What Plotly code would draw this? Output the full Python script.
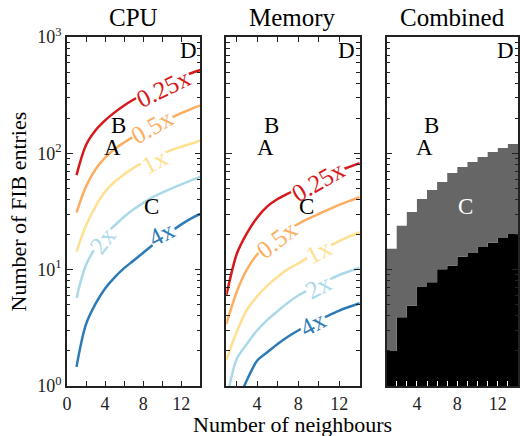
import math
import plotly.graph_objects as go

FONT = "Liberation Serif"

# ---------------- data ----------------
neighbours = list(range(1, 15))

cpu_025 = [65, 118, 158, 192, 225, 258, 290, 322, 354, 386, 420, 455, 488, 520]
cpu_05 = [31, 52, 73, 92, 109, 124, 139, 154, 170, 186, 204, 222, 240, 258]
cpu_1 = [14.3, 24, 35, 47, 57, 66, 75, 83, 91, 99, 107, 114, 121, 129]
cpu_2 = [5.7, 11, 15.5, 20, 24, 28.5, 33, 37.5, 42, 46, 50, 54, 58.5, 63]
cpu_4 = [1.46, 3.4, 5.1, 6.9, 8.6, 10.3, 12.0, 14.0, 16.3, 18.8, 21.5, 24.5, 27.5, 30.1]

mem_025 = [6.0, 13.5, 20.5, 28, 35, 40.5, 45, 50, 55, 60, 65.5, 71, 76.5, 82.5]
mem_05 = [3.4, 6.4, 10, 13.5, 16.5, 19.3, 22, 24.7, 27.4, 30.1, 33, 36, 39, 42]
mem_1 = [1.67, 2.9, 4.5, 5.9, 7.3, 8.7, 10.1, 11.3, 12.8, 14.3, 15.9, 17.6, 19.3, 21]
mem_2 = [0.75, 1.7, 2.3, 3.0, 3.7, 4.4, 5.2, 6.0, 6.7, 7.5, 8.2, 9.0, 9.7, 10.4]
mem_4 = [0.5, 0.7, 1.12, 1.65, 1.95, 2.3, 2.65, 3.0, 3.35, 3.7, 4.05, 4.45, 4.8, 5.15]

# combined: per-column (neighbours 1..13) boundaries
comb_cols = list(range(1, 14))
comb_black_top = [2.0, 3.9, 4.9, 7.1, 7.8, 10.1, 10.8, 12.9, 13.9, 15.7, 17.0, 18.7, 20.3]
comb_gray_top = [15.1, 23.8, 31.3, 40.5, 48.5, 56.8, 67.8, 76.4, 84.4, 93.1, 102.8, 111.3, 120.5]

series_names = ["0.25x", "0.5x", "1x", "2x", "4x"]
series_colors = ["#d7191c", "#fdae61", "#fee090", "#abd9e9", "#2c7bb6"]
cpu_series = [cpu_025, cpu_05, cpu_1, cpu_2, cpu_4]
mem_series = [mem_025, mem_05, mem_1, mem_2, mem_4]

letters = ["A", "B", "C", "D"]
letter_x = [4.8, 5.4, 8.85, 12.75]
letter_y = [112, 175, 34.8, 767]

panel_titles = ["CPU", "Memory", "Combined"]

# label placement (x, y, angle) for inline curve labels
cpu_lab_x = [10.1, 8.95, 9.2, 3.73, 10.0]
cpu_lab_y = [363, 170, 85, 17.8, 20.3]
cpu_lab_ang = [-26, -30, -28, -52, -28]
mem_lab_x = [9.96, 5.98, 10.0, 10.0, 9.48]
mem_lab_y = [57, 18, 14.3, 7.1, 3.46]
mem_lab_ang = [-30, -38, -28, -28, -28]

# ---------------- figure ----------------
fig = go.Figure()

for vals, col in zip(cpu_series, series_colors):
    fig.add_trace(go.Scatter(x=neighbours, y=vals, mode="lines",
                             line=dict(color=col, width=2.5, shape="spline", smoothing=1),
                             xaxis="x", yaxis="y", showlegend=False, hoverinfo="skip"))
for vals, col in zip(mem_series, series_colors):
    fig.add_trace(go.Scatter(x=neighbours, y=vals, mode="lines",
                             line=dict(color=col, width=2.5, shape="spline", smoothing=0.7),
                             xaxis="x2", yaxis="y2", showlegend=False, hoverinfo="skip"))

# combined panel as stepped filled regions
edges = comb_cols + [comb_cols[-1] + 1]
black_steps = comb_black_top + [comb_black_top[-1]]
gray_steps = comb_gray_top + [comb_gray_top[-1]]
fig.add_trace(go.Scatter(x=edges, y=[0.5] * len(edges), mode="lines",
                         line=dict(width=0, color="black"),
                         xaxis="x3", yaxis="y3", showlegend=False, hoverinfo="skip"))
fig.add_trace(go.Scatter(x=edges, y=black_steps, mode="lines", fill="tonexty",
                         fillcolor="black", line=dict(width=0, color="black", shape="hv"),
                         xaxis="x3", yaxis="y3", showlegend=False, hoverinfo="skip"))
fig.add_trace(go.Scatter(x=edges, y=gray_steps, mode="lines", fill="tonexty",
                         fillcolor="#666666", line=dict(width=0, color="#666666", shape="hv"),
                         xaxis="x3", yaxis="y3", showlegend=False, hoverinfo="skip"))

LC = "#222222"
yminor = [m * d for d in (1, 10, 100) for m in range(2, 10)]


def yaxis(domain_anchor, show_labels):
    return dict(type="log", range=[0, 3], anchor=domain_anchor, domain=[0, 1],
                showline=True, linecolor=LC, linewidth=1.8, mirror="ticks",
                ticks="inside", ticklen=6, tickwidth=1, tickcolor=LC,
                tickmode="array", tickvals=[1, 10, 100, 1000],
                ticktext=["10<sup>0</sup>", "10<sup>1</sup>", "10<sup>2</sup>", "10<sup>3</sup>"],
                showticklabels=show_labels,
                tickfont=dict(family=FONT, size=18, color=LC),
                minor=dict(tickmode="array", tickvals=yminor, ticks="inside",
                           ticklen=3.5, tickcolor=LC, showgrid=False),
                showgrid=False, zeroline=False)


def xaxis(domain, rng, tv, minor_tv, tickcol, anchor):
    return dict(domain=domain, range=rng, anchor=anchor,
                showline=True, linecolor=LC, linewidth=1.8, mirror="ticks",
                ticks="inside", ticklen=5, tickwidth=1.2, tickcolor=tickcol,
                tickmode="array", tickvals=tv, ticktext=[str(v) for v in tv],
                tickfont=dict(family=FONT, size=18, color=LC),
                minor=dict(tickmode="array", tickvals=minor_tv, ticks="inside",
                           ticklen=5, tickcolor=tickcol, showgrid=False),
                showgrid=False, zeroline=False)


PW = 520 - 67
fig.update_layout(
    width=520, height=436,
    margin=dict(l=67, r=0, t=37, b=50),
    paper_bgcolor="white", plot_bgcolor="white",
    xaxis=xaxis([0, 134 / PW], [0, 14], [0, 4, 8, 12], [2, 6, 10], LC, "y"),
    xaxis2=xaxis([(227 - 67) / PW, (361 - 67) / PW], [1, 14], [4, 8, 12], [2, 6, 10], LC, "y2"),
    xaxis3=xaxis([(388 - 67) / PW, 1.0], [1, 14], [4, 8, 12],
                 [2, 3, 5, 6, 7, 9, 10, 11, 13], "white", "y3"),
    yaxis=yaxis("x", True),
    yaxis2=yaxis("x2", False),
    yaxis3=yaxis("x3", False),
)

ann = []
# inline curve labels
for i, name in enumerate(series_names):
    ann.append(dict(x=cpu_lab_x[i], y=math.log10(cpu_lab_y[i]), xref="x", yref="y",
                    text=name, showarrow=False, textangle=cpu_lab_ang[i],
                    xanchor="center", yanchor="middle",
                    font=dict(family=FONT, size=25, color=series_colors[i]),
                    bgcolor="white", borderpad=0))
    ann.append(dict(x=mem_lab_x[i], y=math.log10(mem_lab_y[i]), xref="x2", yref="y2",
                    text=name, showarrow=False, textangle=mem_lab_ang[i],
                    xanchor="center", yanchor="middle",
                    font=dict(family=FONT, size=25, color=series_colors[i]),
                    bgcolor="white", borderpad=0))

for k, (xr, yr) in enumerate([("x", "y"), ("x2", "y2"), ("x3", "y3")]):
    for j, L in enumerate(letters):
        col = "white" if (k == 2 and L == "C") else "black"
        ann.append(dict(x=letter_x[j], y=math.log10(letter_y[j]), xref=xr, yref=yr,
                        text=L, showarrow=False, xanchor="center", yanchor="middle",
                        font=dict(family=FONT, size=23, color=col)))

centers = [134, 294, 454.5]
for t, c in zip(panel_titles, centers):
    ann.append(dict(x=(c - 67) / PW, y=1, xref="paper", yref="paper",
                    xanchor="center", yanchor="bottom",
                    yshift=4, text=t, showarrow=False,
                    font=dict(family=FONT, size=25, color="black")))

ann.append(dict(x=(294 - 67) / PW, y=0, xref="paper", yref="paper",
                xanchor="center", yanchor="middle",
                yshift=-38, text="Number of neighbours", showarrow=False,
                font=dict(family=FONT, size=22, color="black")))
ann.append(dict(x=0, y=0.5, xref="paper", yref="paper", xanchor="center", yanchor="middle",
                xshift=-49, text="Number of FIB entries", showarrow=False, textangle=-90,
                font=dict(family=FONT, size=22, color="black")))

fig.update_layout(annotations=ann)
fig.write_html("out.html")
